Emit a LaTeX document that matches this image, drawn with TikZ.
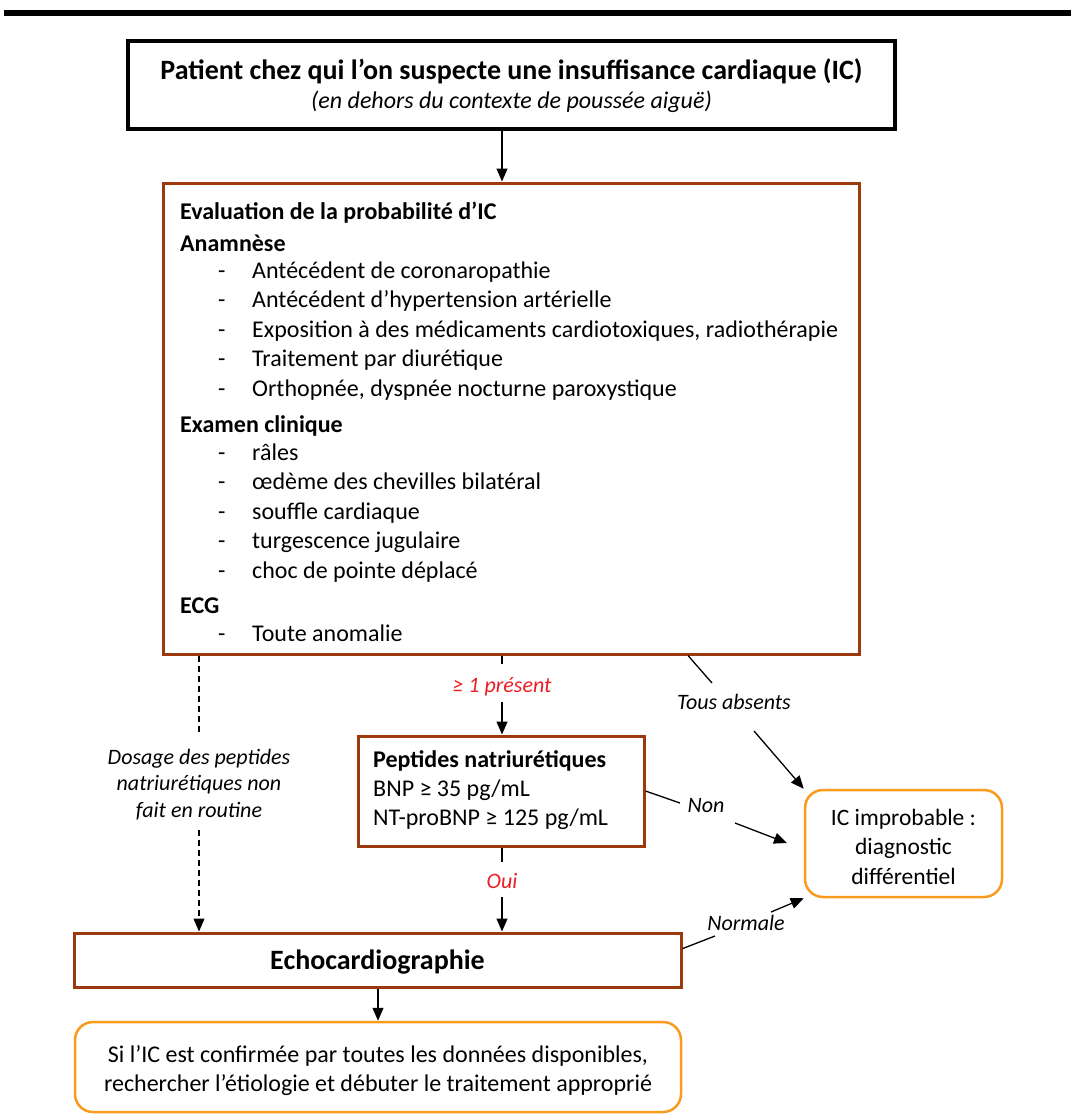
\documentclass[tikz,border=0pt]{standalone}
\usepackage{fontspec}
\setmainfont{Carlito}
\usetikzlibrary{arrows.meta,calc}
\definecolor{brownc}{RGB}{156,58,14}
\definecolor{orangec}{RGB}{250,155,30}
\definecolor{redc}{RGB}{235,30,35}
\newcommand\myfs[2]{\fontsize{#1}{#2}\selectfont}
\begin{document}
\begin{tikzpicture}[x=1pt,y=-1pt,
  blackbox/.style={draw=black, line width=3.5pt, inner sep=0pt},
  brownbox/.style={draw=brownc, line width=3pt, inner sep=0pt},
  orangebox/.style={draw=orangec, line width=2.5pt, rounded corners=18pt, inner sep=0pt},
  txt/.style={anchor=base west, inner sep=0pt, font=\myfs{24}{29.5}},
  ctxt/.style={anchor=base, inner sep=0pt, font=\myfs{24}{29.5}},
  lbl/.style={anchor=base, inner sep=0pt, font=\myfs{22}{26}\itshape},
  ln/.style={draw=black, line width=1.3pt},
  arr/.style={ln, -{Triangle[length=13pt,width=11pt]}},
  dsh/.style={dash pattern=on 6pt off 4pt}
]
\useasboundingbox (0,0) rectangle (1071,1119);
\fill[black] (4,10) rectangle (1071,16);

% boxes
\node[blackbox, minimum width=767pt, minimum height=88pt] (top) at (511.5,85) {};
\node[brownbox, minimum width=695.5pt, minimum height=471pt] (ev) at (511.25,418.5) {};
\node[brownbox, minimum width=286pt, minimum height=110pt] (pep) at (501,791) {};
\node[brownbox, minimum width=607pt, minimum height=54pt] (echo) at (377.5,960) {};
\node[orangebox, minimum width=197pt, minimum height=107pt] (imp) at (903.5,843.5) {};
\node[orangebox, minimum width=606pt, minimum height=90pt] (fin) at (378,1067) {};

% top box text
\node[ctxt, font=\myfs{28}{34}\bfseries] (t1) at (511.5,79) {Patient chez qui l’on suspecte une insuffisance cardiaque (IC)};
\node[ctxt, font=\myfs{24}{29}\itshape] (t2) at (511.5,108) {(en dehors du contexte de poussée aiguë)};

% evaluation box text
\node[txt, font=\myfs{24}{29.5}\bfseries] (h1) at (180,219) {Evaluation de la probabilité d’IC};
\node[txt, font=\myfs{24}{29.5}\bfseries] (h2) at (180,251) {Anamnèse};
\node[txt] (a1d) at (218,278) {-};   \node[txt] (a1) at (252,278) {Antécédent de coronaropathie};
\node[txt] (a2d) at (218,307.5) {-}; \node[txt] (a2) at (252,307.5) {Antécédent d’hypertension artérielle};
\node[txt] (a3d) at (218,337) {-};   \node[txt] (a3) at (252,337) {Exposition à des médicaments cardiotoxiques, radiothérapie};
\node[txt] (a4d) at (218,366.5) {-}; \node[txt] (a4) at (252,366.5) {Traitement par diurétique};
\node[txt] (a5d) at (218,396) {-};   \node[txt] (a5) at (252,396) {Orthopnée, dyspnée nocturne paroxystique};
\node[txt, font=\myfs{24}{29.5}\bfseries] (h3) at (180,432) {Examen clinique};
\node[txt] (e1d) at (218,460) {-};   \node[txt] (e1) at (252,460) {râles};
\node[txt] (e2d) at (218,489.5) {-}; \node[txt] (e2) at (252,489.5) {œdème des chevilles bilatéral};
\node[txt] (e3d) at (218,519) {-};   \node[txt] (e3) at (252,519) {souffle cardiaque};
\node[txt] (e4d) at (218,548.5) {-}; \node[txt] (e4) at (252,548.5) {turgescence jugulaire};
\node[txt] (e5d) at (218,578) {-};   \node[txt] (e5) at (252,578) {choc de pointe déplacé};
\node[txt, font=\myfs{24}{29.5}\bfseries] (h4) at (180,613) {ECG};
\node[txt] (g1d) at (218,641) {-};   \node[txt] (g1) at (252,641) {Toute anomalie};

% peptides box text
\node[txt, font=\myfs{24}{29.5}\bfseries] (p1) at (373,767) {Peptides natriurétiques};
\node[txt] (p2) at (373,796) {BNP ≥ 35 pg/mL};
\node[txt] (p3) at (373,825) {NT-proBNP ≥ 125 pg/mL};

% echo text
\node[ctxt, font=\myfs{28}{34}\bfseries] (ec) at (377.5,969) {Echocardiographie};

% IC improbable text
\node[ctxt, font=\myfs{23.5}{29.5}] (i1) at (903.5,825) {IC improbable :};
\node[ctxt, font=\myfs{23.5}{29.5}] (i2) at (903.5,854) {diagnostic};
\node[ctxt, font=\myfs{23.5}{29.5}] (i3) at (903.5,884) {différentiel};

% final text
\node[ctxt] (f1) at (378,1062) {Si l’IC est confirmée par toutes les données disponibles,};
\node[ctxt] (f2) at (378,1091) {rechercher l’étiologie et débuter le traitement approprié};

% labels
\node[lbl, text=redc] (pres) at (502,692) {≥ 1 présent};
\node[lbl, text=redc] (oui) at (502,888) {Oui};
\node[lbl] (tous) at (734,709) {Tous absents};
\node[lbl] (non) at (706,812) {Non};
\node[lbl] (norm) at (746,930) {Normale};
\node[lbl] (do1) at (199,764) {Dosage des peptides};
\node[lbl] (do2) at (199,790) {natriurétiques non};
\node[lbl] (do3) at (199,817) {fait en routine};

% free ends of connectors
\coordinate (c1) at (502,664);
\coordinate (c2) at (502,702);
\coordinate (c3) at (502,862);
\coordinate (c4) at (502,897);
\coordinate (d1) at (199,733);
\coordinate (d2) at (199,830);
\coordinate (ta1) at (712,683);
\coordinate (ta2) at (754,731);
\coordinate (n1) at (680,803);
\coordinate (n2) at (735,823);
\coordinate (n3) at (787,843);
\coordinate (m1) at (715,936);
\coordinate (m2) at (771,912);

% connectors
\draw[arr] (top.south -| pres) -- (ev.north -| pres);
\draw[ln] (ev.south -| c1) -- (c1);
\draw[arr] (c2) -- (pep.north -| c2);
\draw[ln] (pep.south -| c3) -- (c3);
\draw[arr] (c4) -- (echo.north -| c4);
\draw[ln, dsh] (ev.south -| d1) -- (d1);
\draw[arr, dsh] (d2) -- (echo.north -| d2);
\draw[ln] (ev.south -| 688,0) -- (ta1);
\draw[arr] (ta2) -- (imp.north west);
\draw[ln] (pep.east) -- (n1);
\draw[arr] (n2) -- (n3);
\draw[ln] ($(echo.north east)!0.3!(echo.south east)$) -- (m1);
\draw[arr] (m2) -- (imp.south west);
\draw[arr] (echo.south -| fin) -- (fin.north);
\end{tikzpicture}
\end{document}
